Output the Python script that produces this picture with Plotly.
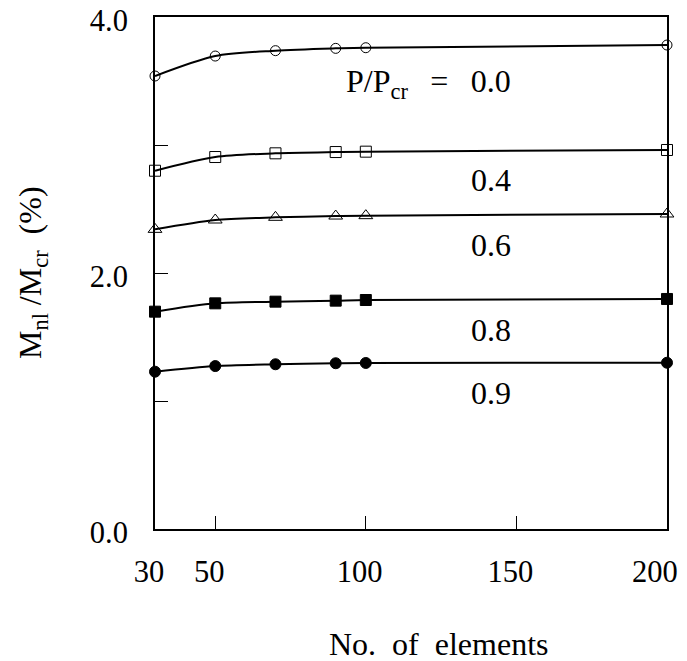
import plotly.graph_objects as go

elements = [30, 50, 70, 90, 100, 200]
r00 = [3.539, 3.695, 3.737, 3.755, 3.760, 3.781]
r04 = [2.799, 2.906, 2.935, 2.945, 2.948, 2.961]
r06 = [2.341, 2.414, 2.435, 2.445, 2.448, 2.461]
r08 = [1.698, 1.763, 1.776, 1.784, 1.789, 1.797]
r09 = [1.229, 1.273, 1.287, 1.295, 1.297, 1.299]

series = [
    ("0.0", r00, "circle-open", 10),
    ("0.4", r04, "square-open", 11),
    ("0.6", r06, "triangle-up-open", 12),
    ("0.8", r08, "square", 11),
    ("0.9", r09, "circle", 11),
]
label_y = {"0.0": 3.477, "0.4": 2.727, "0.6": 2.219, "0.8": 1.555, "0.9": 1.063}

x_ticks = [30, 50, 100, 150, 200]
x_ticktext = ["30", "50", "100", "150", "200"]
y_tickvals = [0, 1, 2, 3, 4]
y_ticktext = ["0.0", "", "2.0", "", "4.0"]

FONT = "Liberation Serif, Times New Roman, serif"
NB = "\u00a0"
TH = "\u2009"

fig = go.Figure()
for name, ys, sym, sz in series:
    fig.add_trace(go.Scatter(
        x=elements, y=ys, mode="lines+markers", name=name,
        line=dict(color="black", width=2, shape="spline", smoothing=0.8),
        marker=dict(symbol=sym, size=sz, color="black", line=dict(color="black", width=1)),
        cliponaxis=False, showlegend=False,
    ))

annotations = []
for name, _, _, _ in series:
    txt = name if name != "0.0" else "P/P<sub>cr</sub>" + NB * 2 + TH + "=" + NB * 2 + TH + "0.0"
    annotations.append(dict(x=148.9, y=label_y[name], xref="x", yref="y", text=txt,
                            showarrow=False, xanchor="right", yanchor="middle",
                            font=dict(family=FONT, size=32, color="black")))

annotations.append(dict(x=(438.5 - 155) / 512, y=(529 - 644) / 512, xref="paper", yref="paper",
                        text="No." + NB * 2 + "of" + NB * 2 + "elements", showarrow=False,
                        xanchor="center", yanchor="middle",
                        font=dict(family=FONT, size=32, color="black")))
annotations.append(dict(x=(32 - 155) / 512, y=0.5, xref="paper", yref="paper",
                        text="M<sub>nl</sub>" + NB + "/M<sub>cr</sub>" + NB * 2 + "(%)", showarrow=False,
                        textangle=-90, xanchor="center", yanchor="middle",
                        font=dict(family=FONT, size=32, color="black")))

pad = [TH * 2, TH * 2, TH * 2, TH * 2, TH * 4]

fig.update_layout(
    width=679, height=653,
    margin=dict(l=147, r=20, t=9, b=132, autoexpand=False),
    paper_bgcolor="white", plot_bgcolor="white",
    font=dict(family=FONT, size=30, color="black"),
    annotations=annotations,
    xaxis=dict(range=[30, 200], tickvals=x_ticks, ticktext=[t + p for t, p in zip(x_ticktext, pad)],
               ticks="inside", ticklen=13, tickwidth=1, tickcolor="black",
               showline=True, linecolor="black", linewidth=2, mirror=True,
               showgrid=False, zeroline=False, ticklabelstandoff=14,
               automargin=False, ticklabeloverflow="allow",
               tickfont=dict(family=FONT, size=30.5, color="black")),
    yaxis=dict(range=[0, 4], tickvals=y_tickvals, ticktext=y_ticktext,
               ticks="inside", ticklen=13, tickwidth=1, tickcolor="black",
               showline=True, linecolor="black", linewidth=2, mirror=True,
               showgrid=False, zeroline=False, ticklabelstandoff=19, ticklabelshift=3,
               automargin=False, ticklabeloverflow="allow",
               tickfont=dict(family=FONT, size=30.5, color="black")),
)

fig.write_html("out.html")
